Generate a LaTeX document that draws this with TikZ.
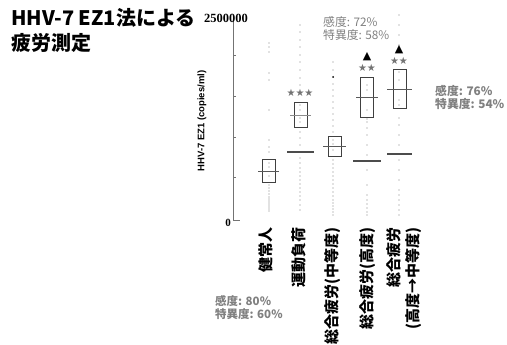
\documentclass[tikz,border=0pt]{standalone}
\usepackage{fontspec}
\setmainfont{Liberation Serif}
\newfontfamily\jp{Noto Sans CJK JP}
\newfontfamily\sym{DejaVu Sans}
\newfontfamily\ax{Liberation Sans}
\definecolor{dotc}{gray}{0.5}
\definecolor{txtg}{gray}{0.5}
\tikzset{
  boxs/.style={draw=black!75, line width=0.6pt, minimum width=13pt, inner sep=0pt},
  medthin/.style={draw=black!65, line width=0.8pt},
  medthick/.style={draw=black!70, line width=1.6pt},
  catlab/.style={font=\jp\bfseries\fontsize{15}{19}\selectfont, rotate=90, anchor=east, inner sep=0pt},
  senslab/.style={font=\jp\fontsize{11.8}{13.5}\selectfont, text=txtg, align=left, anchor=north west, inner sep=0pt},
  starlab/.style={font=\sym\fontsize{10}{10}\selectfont, text=black!55, inner sep=0pt},
  trilab/.style={font=\sym\fontsize{11}{11}\selectfont, inner sep=0pt},
}
\begin{document}
\begin{tikzpicture}[x=1pt,y=-1pt]
\useasboundingbox (0,0) rectangle (507,345);
% title
\node[font=\jp\bfseries\fontsize{20}{25}\selectfont, anchor=north west, align=left, inner sep=0pt] (title) at (11,8) {HHV-7 EZ1法による\\疲労測定};
% axis
\draw[black!55, line width=0.6pt] (233,15) -- (233,220) -- (240,220);
\foreach \t in {55,96,137,177} \draw[black!55, line width=0.5pt] (233,\t) -- (236,\t);
\node[font=\bfseries\fontsize{12.5}{12.5}\selectfont, inner sep=0pt] (ymax) at (226,18) {2500000};
\node[font=\bfseries\fontsize{11}{11}\selectfont, inner sep=0pt] (yzero) at (228,223) {0};
\node[font=\ax\bfseries\fontsize{9.5}{10}\selectfont, rotate=90, inner sep=0pt] (ylab) at (202,121) {HHV-7 EZ1 (copies/ml)};
% dots
\foreach \y in {43,47,52,73,80,110,140,147,152,163,167,176,185,188,191,194,197,199,201,203,205,207,209,211}
  \fill[dotc] (269,\y) circle (0.7);
\foreach \y in {25,32,40,47,55,62,70,78,85,105,110,118,122,132,138,145,158,163,168,172,176,180,184,188,192,196,200,205,210}
  \fill[dotc] (300,\y) circle (0.7);
\foreach \y in {20,30,62,70,84,90,96,102,108,114,120,126,132,140,144,150,160,164,168,172,176,180,184,188,192,196,200,203,206,209,212,215}
  \fill[dotc] (333,\y) circle (0.7);
\fill[black] (333,77) circle (1);
\foreach \y in {85,90,110,119,122,128,135,145,155,170,185,195,200,204,208,212,215}
  \fill[dotc] (367,\y) circle (0.7);
\foreach \y in {15,25,35,45,72,80,100,105,118,125,135,145,160,170,180,190,195,200,205,210,215}
  \fill[dotc] (399,\y) circle (0.7);
% boxes
\node[boxs, minimum height=23pt] (b1) at (269,170.5) {};
\draw[medthin] (258,171) -- (279,171);
\node[boxs, minimum height=25pt] (b2) at (300.5,114.5) {};
\draw[medthin, draw=black!45] (290,115) -- (311,115);
\draw[medthick] (287,152) -- (314,152);
\node[boxs, minimum height=20pt] (b3) at (334.5,146) {};
\draw[medthin] (323,146) -- (346,146);
\node[boxs, minimum height=40pt] (b4) at (367,97) {};
\draw[medthin] (356,97) -- (378,97);
\draw[medthick] (353,161) -- (381,161);
\node[boxs, minimum height=39pt] (b5) at (399.5,88.5) {};
\draw[medthin] (387,89) -- (412,89);
\draw[medthick] (387,154) -- (412,154);
% stars and triangles
\node[starlab] (s2) at (300,93) {★★★};
\node[starlab] (s4) at (367,68) {★★};
\node[starlab] (s5) at (399,61) {★★};
\node[trilab] (t4) at (367,57) {▲};
\node[trilab] (t5) at (399,50) {▲};
% sensitivity texts
\node[senslab] (sens72) at (323,16) {感度: 72\%\\特異度: 58\%};
\node[senslab, font=\jp\bfseries\fontsize{11.8}{13.5}\selectfont] (sens76) at (435,85) {感度: 76\%\\特異度: 54\%};
\node[senslab, font=\jp\bfseries\fontsize{11.5}{13}\selectfont] (sens80) at (215,295) {感度: 80\%\\特異度: 60\%};
% category labels
\node[catlab] (l1) at (266,227) {健常人};
\node[catlab] (l2) at (299,227) {運動負荷};
\node[catlab] (l3) at (333,227) {総合疲労(中等度)};
\node[catlab] (l4) at (368,227) {総合疲労(高度)};
\node[catlab, align=right] (l5) at (404,227) {総合疲労\\(高度→中等度)};
\end{tikzpicture}
\end{document}
